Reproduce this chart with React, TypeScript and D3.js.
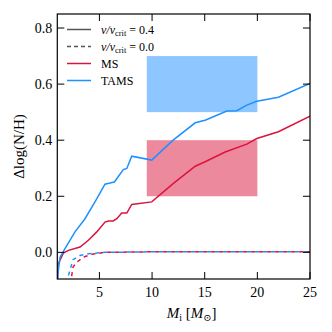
import React, { useRef, useEffect } from 'react';
import * as d3 from 'd3';

// v/vcrit = 0.4 (solid)
const msRotMass = [1.0, 1.1, 1.57, 2.05, 3.16, 3.95, 4.75, 5.53, 5.85, 6.3, 6.65, 7.12, 7.6, 8.07, 9.97, 12.0, 14.1, 15.04, 16.94, 19.0, 19.95, 22.0, 25.0];
const msRotVals = [-0.11, -0.04, -0.0025, 0.007, 0.019, 0.043, 0.073, 0.108, 0.112, 0.112, 0.12, 0.14, 0.14, 0.171, 0.18, 0.245, 0.307, 0.323, 0.358, 0.386, 0.406, 0.43, 0.486];
const tamsRotMass = [1.0, 1.1, 1.26, 1.73, 2.68, 3.63, 4.58, 5.53, 6.0, 6.42, 7.27, 7.6, 8.07, 9.97, 12.0, 14.1, 15.04, 17.1, 18.05, 19.0, 19.95, 22.0, 25.0];
const tamsRotVals = [-0.11, -0.064, -0.017, 0.013, 0.073, 0.12, 0.18, 0.243, 0.247, 0.251, 0.295, 0.299, 0.343, 0.329, 0.4, 0.462, 0.471, 0.504, 0.505, 0.525, 0.539, 0.553, 0.602];

// v/vcrit = 0.0 (dashed)
const msNoRotMass = [2.25, 2.5, 2.85, 3.47, 4.27, 5.5, 10, 15, 20, 25];
const msNoRotVals = [-0.11, -0.052, -0.035, -0.017, -0.007, 0.0, 0.002, 0.002, 0.002, 0.002];
const tamsNoRotMass = [1.85, 2.2, 2.5, 3.16, 3.95, 5.5, 10, 15, 20, 25];
const tamsNoRotVals = [-0.11, -0.064, -0.026, -0.011, -0.005, 0.0, 0.002, 0.002, 0.002, 0.002];

// observed ranges: [x0, x1, y0, y1]
const msBox = [9.5, 20, 0.2, 0.4];
const tamsBox = [9.5, 20, 0.5, 0.7];

const xTicks = [5, 10, 15, 20, 25];
const yTicks = [0.0, 0.2, 0.4, 0.6, 0.8];

const RED = '#dc143c';
const BLUE = '#1e90ff';
const SERIF = "'Liberation Serif', 'Times New Roman', 'DejaVu Serif', serif";

const App = () => {
  const svgRef = useRef(null);

  useEffect(() => {
    const width = 332;
    const height = 332;
    const margin = { top: 14, right: 22, bottom: 53, left: 57.3 };

    const svg = d3.select(svgRef.current)
      .attr('width', width)
      .attr('height', height)
      .style('background', 'white')
      .style('font-family', SERIF);
    svg.selectAll('*').remove();

    const x = d3.scaleLinear().domain([1, 25]).range([margin.left, width - margin.right]);
    const y = d3.scaleLinear().domain([-0.095, 0.85]).range([height - margin.bottom, margin.top]);

    svg.append('defs').append('clipPath').attr('id', 'plotclip')
      .append('rect')
      .attr('x', margin.left).attr('y', margin.top)
      .attr('width', width - margin.left - margin.right)
      .attr('height', height - margin.top - margin.bottom);

    const plot = svg.append('g').attr('clip-path', 'url(#plotclip)');

    // shaded boxes
    [[msBox, RED], [tamsBox, BLUE]].forEach(([b, c]: any) => {
      plot.append('rect')
        .attr('x', x(b[0]))
        .attr('y', y(b[3]))
        .attr('width', x(b[1]) - x(b[0]))
        .attr('height', y(b[2]) - y(b[3]))
        .attr('fill', c)
        .attr('fill-opacity', 0.5);
    });

    const line = d3.line<[number, number]>().x(d => x(d[0])).y(d => y(d[1]));
    const zip = (ms: number[], vs: number[]) => ms.map((m, i) => [m, vs[i]] as [number, number]);

    // pixel length up to index k, used to make the two dashed lines alternate
    const lenTo = (d: [number, number][], k: number) => {
      let s = 0;
      for (let i = 1; i <= k; i++) s += Math.hypot(x(d[i][0]) - x(d[i - 1][0]), y(d[i][1]) - y(d[i - 1][1]));
      return s;
    };
    const blueDash = zip(tamsNoRotMass, tamsNoRotVals);
    const redDash = zip(msNoRotMass, msNoRotVals);
    const period = 8;
    const redOffset = ((lenTo(blueDash, 5) - lenTo(redDash, 5) + period / 2) % period + period) % period;

    const series = [
      { data: blueDash, color: BLUE, dash: '4,4', offset: 0 },
      { data: redDash, color: RED, dash: '4,4', offset: redOffset },
      { data: zip(msRotMass, msRotVals), color: RED, dash: null, offset: 0 },
      { data: zip(tamsRotMass, tamsRotVals), color: BLUE, dash: null, offset: 0 },
    ];
    series.forEach(s => {
      const p = plot.append('path')
        .datum(s.data)
        .attr('fill', 'none')
        .attr('stroke', s.color)
        .attr('stroke-width', 1.5)
        .attr('d', line);
      if (s.dash) p.attr('stroke-dasharray', s.dash).attr('stroke-dashoffset', s.offset);
    });

    // frame and inward ticks
    const x0 = margin.left, x1 = width - margin.right, y0 = height - margin.bottom, y1 = margin.top;
    const tl = 7;
    const ax = svg.append('g').attr('stroke', 'black').attr('stroke-width', 1);
    xTicks.forEach(t => {
      ax.append('line').attr('x1', x(t)).attr('x2', x(t)).attr('y1', y0).attr('y2', y0 - tl);
      ax.append('line').attr('x1', x(t)).attr('x2', x(t)).attr('y1', y1).attr('y2', y1 + tl);
    });
    yTicks.forEach(t => {
      ax.append('line').attr('x1', x0).attr('x2', x0 + tl).attr('y1', y(t)).attr('y2', y(t));
      ax.append('line').attr('x1', x1).attr('x2', x1 - tl).attr('y1', y(t)).attr('y2', y(t));
    });
    svg.append('rect')
      .attr('x', x0).attr('y', y1)
      .attr('width', x1 - x0).attr('height', y0 - y1)
      .attr('fill', 'none').attr('stroke', 'black').attr('stroke-width', 1.2);

    const txt = svg.append('g').style('font-family', SERIF).attr('fill', 'black');
    xTicks.forEach(t => {
      txt.append('text').attr('x', x(t)).attr('y', y0 + 18)
        .attr('text-anchor', 'middle').style('font-size', '14px').text(t);
    });
    yTicks.forEach(t => {
      txt.append('text').attr('x', x0 - 5).attr('y', y(t) + 5)
        .attr('text-anchor', 'end').style('font-size', '14px').text(d3.format('.1f')(t));
    });

    // axis labels
    const xl = txt.append('text').attr('x', (x0 + x1) / 2 + 8).attr('y', 318)
      .attr('text-anchor', 'middle').style('font-size', '15px');
    xl.append('tspan').style('font-style', 'italic').text('M');
    xl.append('tspan').style('font-size', '10px').attr('dy', 3).text('i');
    xl.append('tspan').attr('dy', -3).text(' [');
    xl.append('tspan').style('font-style', 'italic').text('M');
    xl.append('tspan').style('font-size', '10px').attr('dy', 3).text('⊙');
    xl.append('tspan').attr('dy', -3).text(']');

    txt.append('text')
      .attr('transform', `translate(24,${(y0 + y1) / 2}) rotate(-90)`)
      .attr('text-anchor', 'middle').style('font-size', '15px')
      .text('Δlog(N/H)');

    // legend
    const leg = svg.append('g');
    const entries = [
      { label: ['v', 'crit', ' = 0.4'], color: '#555', dash: null },
      { label: ['v', 'crit', ' = 0.0'], color: '#555', dash: '4,3' },
      { label: ['MS'], color: RED, dash: null },
      { label: ['TAMS'], color: BLUE, dash: null },
    ];
    entries.forEach((e, i) => {
      const ly = 29.5 + i * 17;
      const l = leg.append('line')
        .attr('x1', 67).attr('x2', 91).attr('y1', ly).attr('y2', ly)
        .attr('stroke', e.color).attr('stroke-width', 1.5);
      if (e.dash) l.attr('stroke-dasharray', e.dash);
      const t = leg.append('text').attr('x', 101).attr('y', ly + 4)
        .style('font-family', SERIF).style('font-size', '12px').attr('fill', 'black');
      if (e.label.length === 1) {
        t.text(e.label[0]);
      } else {
        t.append('tspan').style('font-style', 'italic').text('v/v');
        t.append('tspan').style('font-size', '8.5px').attr('dy', 2.5).text(e.label[1]);
        t.append('tspan').attr('dy', -2.5).text(e.label[2]);
      }
    });
  }, []);

  return (
    <svg ref={svgRef} style={{ position: 'absolute', left: 0, top: 0, display: 'block' }}></svg>
  );
};

export default App;
